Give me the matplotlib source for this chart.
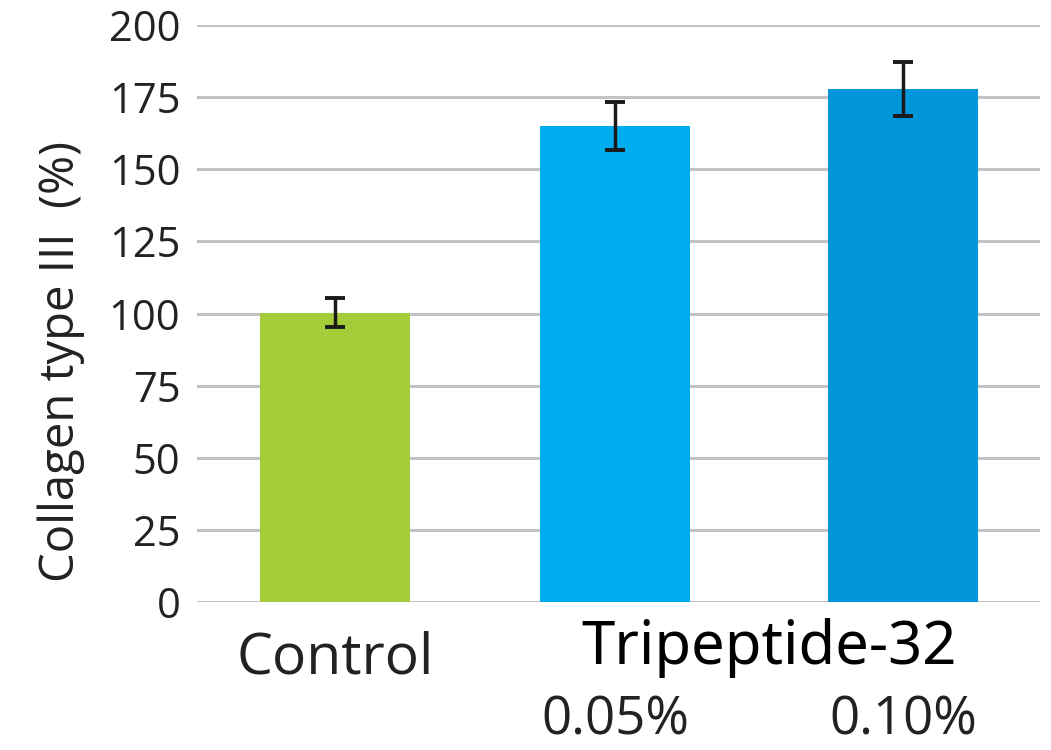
import matplotlib
matplotlib.use('Agg')
from matplotlib import pyplot as plt

# values
groups = ['Control', '0.05%', '0.10%']
positions = [0, 1, 2.03]
collagen = [100.2, 165.0, 177.8]
errors = [5.0, 8.3, 9.2]
bar_colors = ['#A5CD39', '#00AEEF', '#0096D9']
yticks = [0, 25, 50, 75, 100, 125, 150, 175, 200]

plt.rcParams['font.family'] = ['Open Sans', 'DejaVu Sans']

fig = plt.figure(figsize=(10.51, 7.5), dpi=100)
ax = fig.add_axes([0.1874, 0.1973, 0.8021, 0.7694])

ax.bar(positions, collagen, width=0.536, color=bar_colors, zorder=2)
ax.errorbar(positions, collagen, yerr=errors, fmt='none', ecolor='#1a1a1a',
            elinewidth=2.5, capsize=7, capthick=2.8, zorder=3)

ax.set_ylim(0, 200)
ax.set_xlim(-0.493, 2.518)
ax.set_yticks(yticks)
ax.set_yticklabels([str(t) for t in yticks])
ax.yaxis.grid(True, color='#C2C2C6', linewidth=2.2, zorder=0)
ax.set_axisbelow(True)
for s in ax.spines.values():
    s.set_visible(False)
ax.tick_params(axis='y', length=0, pad=12, labelsize=30, labelcolor='#222222')
ax.tick_params(axis='x', length=0)
ax.set_xticks([])

fig.text(61 / 1051, 1 - 361 / 750, 'Collagen type III  (%)', rotation=90,
         ha='center', va='center', fontsize=34, color='#222222')

ax.text(positions[0], -24.6, groups[0], ha='center', va='baseline', fontsize=41,
        color='#222222', clip_on=False)
ax.text(1.55, -21.5, 'Tripeptide-32', ha='center', va='baseline',
        fontsize=43, color='black', family=['Noto Sans', 'DejaVu Sans'], clip_on=False)
for p, g in zip(positions[1:], groups[1:]):
    ax.text(p, -46.0, g, ha='center', va='baseline', fontsize=38, color='#222222', clip_on=False)

fig.savefig('out.png', dpi=100)
